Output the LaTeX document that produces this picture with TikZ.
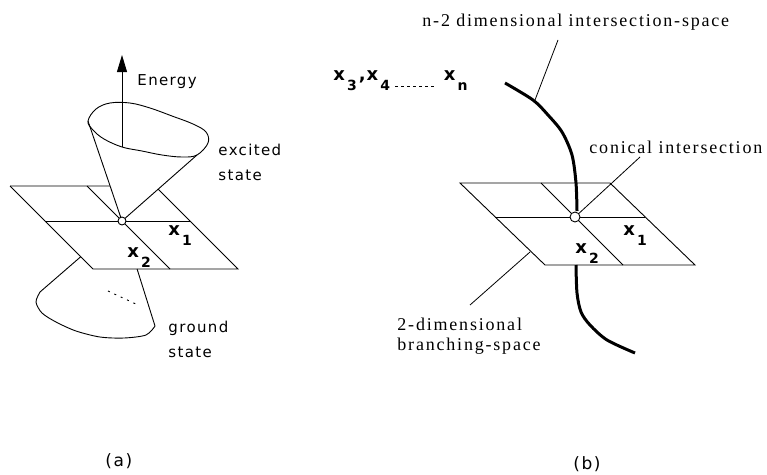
\documentclass[tikz,border=0pt]{standalone}
\usepackage{fontspec}
\setmainfont{Liberation Serif}
\newfontfamily\genfont[LetterSpace=9]{DejaVu Sans}
\newfontfamily\nyfont[LetterSpace=10]{Liberation Serif}
\newfontfamily\chfont{DejaVu Sans}
\usetikzlibrary{arrows.meta}
\newcommand{\xsub}[1]{x\kern2pt\raisebox{-10pt}{\fontsize{14}{14}\selectfont #1}}
\newcommand{\dotsline}{\hbox to 44pt{\leaders\hbox to 6pt{\hss\rule[-7pt]{3pt}{1pt}\hss}\hfill}}
\begin{document}
\begin{tikzpicture}[x=1pt,y=-1pt,line width=0.9pt,
  gen/.style={inner sep=0pt,anchor=base west,font=\genfont\fontsize{15}{15}\selectfont},
  panlab/.style={inner sep=0pt,anchor=base west,font=\genfont\fontsize{17}{17}\selectfont},
  ny/.style={inner sep=0pt,anchor=base west,font=\nyfont\fontsize{18}{18}\selectfont},
  xlab/.style={inner sep=0pt,anchor=base west,font=\chfont\bfseries\fontsize{18}{18}\selectfont},
  lead/.style={line width=0.8pt},
  heavy/.style={line width=3pt},
  dotc/.style={circle,draw,fill=white,inner sep=0pt,line width=0.9pt}]
\useasboundingbox (0,0) rectangle (767,474);
% ---------- panel (a) ----------
\coordinate (aO) at (122,221);
\coordinate (aTL) at (10,186);
\coordinate (aTR) at (155,186);
\coordinate (aBR) at (238,269);
\coordinate (aBL) at (93,269);
\coordinate (aML) at (45,221);
\coordinate (aMR) at (190,221);
\coordinate (aXT) at (87,186);
\coordinate (aXB) at (170,269);
\coordinate (aCL) at (88,121);
\coordinate (aCR) at (197,155);
\coordinate (aTV) at (intersection of aO--aCL and aTL--aTR);
\coordinate (aRV) at (intersection of aO--aCR and aTR--aBR);
\draw (aTL) -- (aTV);
\draw (aRV) -- (aBR) -- (aBL) -- (aTL);
\draw (aML) -- (aMR);
\draw (aXT) -- (aXB);
\draw (aCL) -- (aO) -- (aCR);
\draw plot[smooth cycle, tension=0.6] coordinates {(aCL) (96,109) (110,103) (130,103) (150,108) (172,116) (193,124) (206,132) (208,143) (aCR) (182,157) (162,155) (142,151) (122,147) (104,139) (93,130)};
\coordinate (aE0) at (122,147);
\coordinate (aE1) at (122,55);
\draw[-{Triangle[length=17pt,width=10pt]}] (aE0) -- (aE1);
% lower cone
\coordinate (aGL) at (40,292);
\coordinate (aGR) at (155,326);
\coordinate (aGLv) at (intersection of aO--aGL and aTL--aBL);
\coordinate (aGRv) at (intersection of aO--aGR and aBL--aBR);
\draw (aGLv) -- (aGL);
\draw (aGRv) -- (aGR);
\draw plot[smooth] coordinates {(aGL) (36,302) (42,313) (56,322) (76,331) (100,337) (124,338) (146,335) (aGR)};
\coordinate (aD0) at (108,291);
\coordinate (aD1) at (138,305);
\draw[dash pattern=on 2pt off 5pt] (aD0) -- (aD1);
\node[dotc,minimum size=8pt] (aOc) at (aO) {};
\node[gen] (tEnergy) at (137,85) {Energy};
\node[gen] (tExc) at (218,155) {excited};
\node[gen] (tSt1) at (218,180) {state};
\node[gen] (tGr) at (168,332) {ground};
\node[gen] (tSt2) at (168,357) {state};
\node[xlab] (ax1) at (168,235) {\xsub{1}};
\node[xlab] (ax2) at (127,257) {\xsub{2}};
\node[panlab] (ta) at (105,466) {(a)};
% ---------- panel (b) ----------
\coordinate (bO) at (575,217);
\coordinate (bTL) at (460,183);
\coordinate (bTR) at (610,183);
\coordinate (bBR) at (695,265);
\coordinate (bBL) at (545,265);
\coordinate (bML) at (495,217);
\coordinate (bMR) at (645,217);
\coordinate (bXT) at (541,183);
\coordinate (bXB) at (623,265);
\draw (bTL) -- (bTR) -- (bBR) -- (bBL) -- cycle;
\draw (bML) -- (bMR);
\draw (bXT) -- (bXB);
\draw[heavy] plot[smooth] coordinates {(505,83) (533,100) (548,115) (562,132) (572,155) (576,183) (577,211)};
\draw[heavy] plot[smooth] coordinates {(576,265) (577,293) (581,312) (590,325) (607,340) (635,353)};
\coordinate (bL1a) at (558,40);
\coordinate (bL1b) at (535,100);
\draw[lead] (bL1a) -- (bL1b);
\coordinate (bL2) at (640,157);
\draw[lead] (bO) -- (bL2);
\coordinate (bL3a) at (470,305);
\coordinate (bL3b) at (530,252);
\draw[lead] (bL3a) -- (bL3b);
\node[dotc,minimum size=10pt] (bOc) at (bO) {};
\node[ny] (tN2) at (422,26) {n-2 dimensional intersection-space};
\node[ny] (tCI) at (589,153) {conical intersection};
\node[ny] (tD2) at (397,330) {2-dimensional};
\node[ny] (tBS) at (397,350) {branching-space};
\node[xlab] (bx1) at (623,235) {\xsub{1}};
\node[xlab] (bx2) at (575,253) {\xsub{2}};
\node[xlab] (bx3) at (333,80) {\xsub{3}\kern2pt,\kern1pt\xsub{4}\kern4pt\dotsline\kern6pt\xsub{n}};
\node[panlab] (tb) at (573,469) {(b)};
\end{tikzpicture}
\end{document}
